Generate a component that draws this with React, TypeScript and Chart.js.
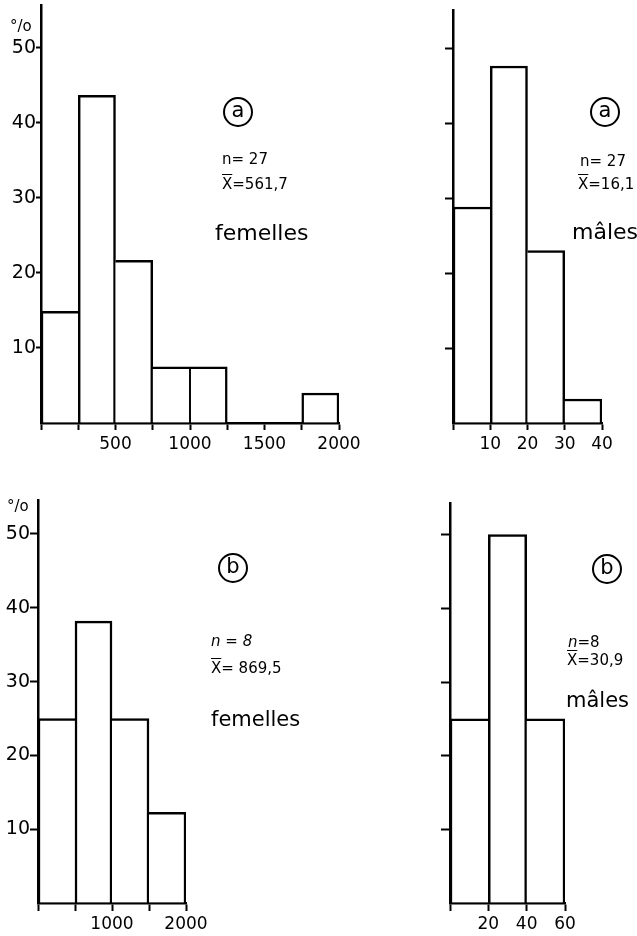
import React, { useEffect, useRef } from 'react';
import { Chart, registerables } from 'chart.js';

Chart.register(...registerables);

// ---------- data ----------
// (a) femelles : bin centres (classes of 250) and percentages
const femA_centres = [125, 375, 625, 875, 1125, 1375, 1625, 1875];
const femA_pct = [14.9, 43.7, 21.7, 7.5, 7.5, 0, 0, 4.0];
const femA_xLabels = [500, 1000, 1500, 2000];

// (a) mâles : classes of 10
const malA_centres = [5, 15, 25, 35];
const malA_pct = [28.8, 47.6, 23.0, 3.2];
const malA_xLabels = [10, 20, 30, 40];

// (b) femelles : classes of 500
const femB_centres = [250, 750, 1250, 1750];
const femB_pct = [25, 38.2, 25, 12.3];
const femB_xLabels = [1000, 2000];

// (b) mâles : classes of 20
const malB_centres = [10, 30, 50];
const malB_pct = [25, 50, 25];
const malB_xLabels = [20, 40, 60];

const yLabelsShown = [10, 20, 30, 40, 50];
const noYLabels: number[] = [];

const FONT = '"DejaVu Sans", sans-serif';

type HistProps = {
  left: number; top: number; width: number; height: number;
  centres: number[]; values: number[];
  xMax: number; xStep: number; xLabels: number[];
  yMax: number; yLabels: number[];
  yAxisWidth: number; xAxisHeight: number;
  padTop: number; padRight: number;
  yTickLen: number; xTickLen: number; xPad: number;
};

const THICK = 2.5;
const HALF = 1.3;

function sideWidth(v: number, other: number | undefined): number {
  if (other === undefined || other < v) return THICK;
  if (other === v) return HALF;
  return 0;
}

function Histogram(p: HistProps) {
  const ref = useRef<HTMLCanvasElement | null>(null);
  useEffect(() => {
    if (!ref.current) return;
    const vals = p.values;
    const chart = new Chart(ref.current, {
      type: 'bar',
      data: {
        datasets: [{
          data: p.centres.map((c, i) => ({ x: c, y: vals[i] })),
          backgroundColor: '#ffffff',
          borderColor: '#000000',
          borderWidth: (ctx: any) => {
            const i = ctx.dataIndex;
            const v = vals[i];
            return {
              top: THICK,
              bottom: 0,
              left: sideWidth(v, vals[i - 1]),
              right: sideWidth(v, vals[i + 1]),
            };
          },
          borderSkipped: false,
          barPercentage: 1,
          categoryPercentage: 1,
        } as any],
      },
      options: {
        animation: false,
        responsive: false,
        maintainAspectRatio: false,
        events: [],
        layout: { padding: { top: p.padTop, right: p.padRight, left: 0, bottom: 0 } },
        plugins: { legend: { display: false }, tooltip: { enabled: false }, title: { display: false } },
        scales: {
          x: {
            type: 'linear',
            min: 0,
            max: p.xMax,
            offset: false,
            grid: {
              display: true, offset: false, drawOnChartArea: false, drawTicks: true,
              tickLength: p.xTickLen, tickWidth: 2, tickColor: '#000',
            },
            border: { display: true, color: '#000', width: 2.5 },
            ticks: {
              stepSize: p.xStep, autoSkip: false, maxRotation: 0, minRotation: 0,
              padding: p.xPad, color: '#000', font: { family: FONT, size: 17 },
              callback: (v: any) => (p.xLabels.includes(Number(v)) ? String(v) : ''),
            },
            afterFit: (s: any) => { s.height = p.xAxisHeight; s.paddingLeft = 0; s.paddingRight = 0; },
          } as any,
          y: {
            type: 'linear',
            min: 0,
            max: p.yMax,
            grid: {
              display: true, drawOnChartArea: false, drawTicks: true,
              tickLength: p.yTickLen, tickWidth: 2,
              tickColor: (ctx: any) => (ctx.tick && ctx.tick.value === 0 ? 'rgba(0,0,0,0)' : '#000'),
            },
            border: { display: true, color: '#000', width: 2.5 },
            ticks: {
              stepSize: 10, includeBounds: false, autoSkip: false, padding: 0,
              color: '#000', font: { family: FONT, size: 19 },
              callback: (v: any) => (p.yLabels.includes(Number(v)) ? String(v) : ''),
            },
            afterFit: (s: any) => { s.width = p.yAxisWidth; s.paddingTop = 0; s.paddingBottom = 0; },
          } as any,
        },
      },
    });
    return () => chart.destroy();
  }, []);
  return (
    <canvas
      ref={ref}
      width={p.width}
      height={p.height}
      style={{ position: 'absolute', left: p.left, top: p.top, width: p.width, height: p.height }}
    />
  );
}

function Txt({ x, y, size, children }: { x: number; y: number; size: number; children: any }) {
  return (
    <div style={{
      position: 'absolute', left: x, top: y, fontFamily: FONT, fontSize: size,
      lineHeight: 1, whiteSpace: 'nowrap', color: '#000',
    }}>{children}</div>
  );
}

function Circled({ cx, cy, letter }: { cx: number; cy: number; letter: string }) {
  return (
    <div style={{
      position: 'absolute', left: cx - 15, top: cy - 15, width: 30, height: 30,
      boxSizing: 'border-box', border: '2px solid #000', borderRadius: '50%',
      display: 'flex', alignItems: 'center', justifyContent: 'center',
      fontFamily: FONT, fontSize: 21, lineHeight: 1, color: '#000',
    }}><span style={{ marginTop: -3 }}>{letter}</span></div>
  );
}

const Xbar = () => <span style={{ textDecoration: 'overline' }}>X</span>;

export default function App() {
  return (
    <div style={{ position: 'absolute', left: 0, top: 0, width: 637, height: 936, background: '#fff', overflow: 'hidden' }}>
      <Histogram left={0} top={0} width={370} height={460}
        centres={femA_centres} values={femA_pct} xMax={2000} xStep={250} xLabels={femA_xLabels}
        yMax={55.73} yLabels={yLabelsShown} yAxisWidth={41} xAxisHeight={37}
        padTop={5} padRight={31} yTickLen={5} xTickLen={7} xPad={4} />
      <Histogram left={400} top={0} width={237} height={460}
        centres={malA_centres} values={malA_pct} xMax={40} xStep={10} xLabels={malA_xLabels}
        yMax={55.07} yLabels={noYLabels} yAxisWidth={53} xAxisHeight={37}
        padTop={10} padRight={35} yTickLen={8} xTickLen={7} xPad={4} />
      <Histogram left={0} top={460} width={230} height={476}
        centres={femB_centres} values={femB_pct} xMax={2000} xStep={500} xLabels={femB_xLabels}
        yMax={54.6} yLabels={yLabelsShown} yAxisWidth={38} xAxisHeight={33}
        padTop={40} padRight={44} yTickLen={8} xTickLen={8} xPad={3} />
      <Histogram left={400} top={460} width={237} height={476}
        centres={malB_centres} values={malB_pct} xMax={60} xStep={20} xLabels={malB_xLabels}
        yMax={54.3} yLabels={noYLabels} yAxisWidth={50} xAxisHeight={33}
        padTop={43} padRight={72} yTickLen={9} xTickLen={8} xPad={3} />

      <Txt x={10} y={19} size={15}>°/o</Txt>
      <Txt x={7} y={499} size={15}>°/o</Txt>

      <Circled cx={238} cy={112} letter="a" />
      <Txt x={222} y={152} size={15}>n= 27</Txt>
      <Txt x={222} y={177} size={15}><Xbar />=561,7</Txt>
      <Txt x={215} y={222} size={22}>femelles</Txt>

      <Circled cx={605} cy={112} letter="a" />
      <Txt x={580} y={154} size={15}>n= 27</Txt>
      <Txt x={578} y={177} size={15}><Xbar />=16,1</Txt>
      <Txt x={572} y={221} size={22}>mâles</Txt>

      <Circled cx={233} cy={568} letter="b" />
      <Txt x={211} y={634} size={15}><i>n</i> = <i>8</i></Txt>
      <Txt x={211} y={661} size={15}><Xbar />= 869,5</Txt>
      <Txt x={211} y={709} size={21}>femelles</Txt>

      <Circled cx={607} cy={569} letter="b" />
      <Txt x={568} y={635} size={15}><i>n</i>=8</Txt>
      <Txt x={567} y={653} size={15}><Xbar />=30,9</Txt>
      <Txt x={566} y={690} size={21}>mâles</Txt>
    </div>
  );
}
